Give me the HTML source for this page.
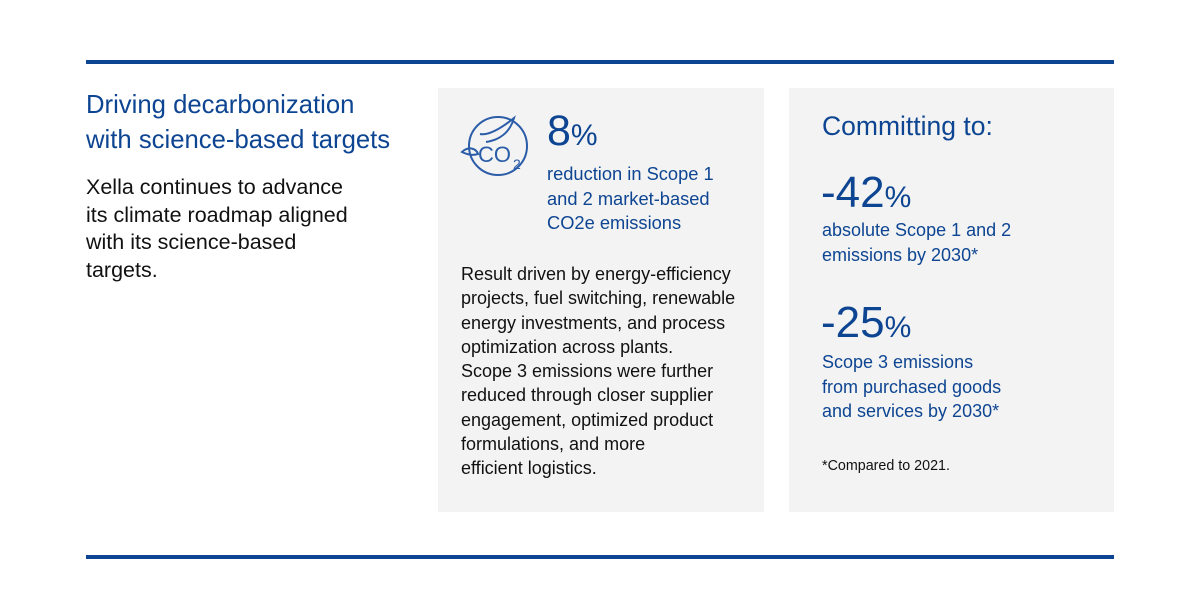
<!DOCTYPE html>
<html><head><style>
html,body{margin:0;padding:0;background:#fff;}
body{width:1200px;height:606px;position:relative;overflow:hidden;font-family:"Liberation Sans",sans-serif;}
.l{position:absolute;white-space:nowrap;}
.bar{position:absolute;left:86px;width:1028px;height:4px;background:#0d4592;}
.panel{position:absolute;top:88px;height:424px;background:#f3f3f3;}
.b{color:#0d4592;}
.k{color:#111;}
</style></head><body>
<div class="bar" style="top:60px"></div>
<div class="bar" style="top:555px"></div>
<div class="panel" style="left:438px;width:326px"></div>
<div class="panel" style="left:789px;width:325px"></div>

<div class="l b" style="left:86px;top:88px;font-size:25.7px;line-height:35px">Driving decarbonization<br>with science-based targets</div>
<div class="l k" style="left:86px;top:174px;font-size:21.5px;line-height:27.5px">Xella continues to advance<br>its climate roadmap aligned<br>with its science-based<br>targets.</div>

<svg style="position:absolute;left:460px;top:112px" width="80" height="72" viewBox="0 0 80 72">
<g fill="none" stroke="#2a5ca8" stroke-width="2">
<circle cx="38" cy="34" r="29"/>
<path d="M20 22 C30 24 44 14 54 6 C50 20 40 28 26 30"/>
<path d="M2 40 C8 34 16 36 18 42 C12 44 6 42 2 40Z"/>
</g>
<text x="18" y="50" font-family="Liberation Sans" font-size="22" fill="#2a5ca8">CO</text>
<text x="53" y="57" font-family="Liberation Sans" font-size="14" fill="#2a5ca8">2</text>
</svg>
<div class="l b" style="left:547px;top:106px;font-size:43px;line-height:50px">8<span style="font-size:30px">%</span></div>
<div class="l b" style="left:547px;top:162px;font-size:18.3px;line-height:24.5px">reduction in Scope 1<br>and 2 market-based<br>CO2e emissions</div>
<div class="l k" style="left:461px;top:262px;font-size:18px;line-height:24.3px">Result driven by energy-efficiency<br>projects, fuel switching, renewable<br>energy investments, and process<br>optimization across plants.<br>Scope 3 emissions were further<br>reduced through closer supplier<br>engagement, optimized product<br>formulations, and more<br>efficient logistics.</div>

<div class="l b" style="left:822px;top:110px;font-size:26.5px;line-height:32px">Committing to:</div>
<div class="l b" style="left:821px;top:168px;font-size:44px;line-height:50px">-42<span style="font-size:30px">%</span></div>
<div class="l b" style="left:822px;top:218px;font-size:18px;line-height:24.5px">absolute Scope 1 and 2<br>emissions by 2030*</div>
<div class="l b" style="left:821px;top:298px;font-size:44px;line-height:50px">-25<span style="font-size:30px">%</span></div>
<div class="l b" style="left:822px;top:350px;font-size:18px;line-height:24.5px">Scope 3 emissions<br>from purchased goods<br>and services by 2030*</div>
<div class="l k" style="left:822px;top:457px;font-size:14.3px;line-height:18px">*Compared to 2021.</div>
</body></html>
